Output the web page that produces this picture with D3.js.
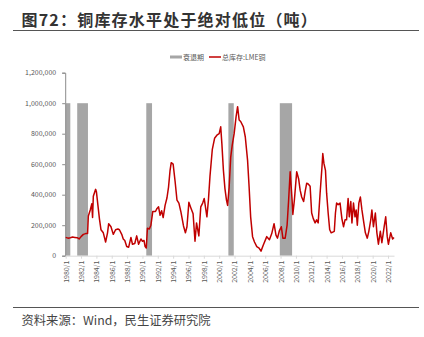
<!DOCTYPE html>
<html><head><meta charset="utf-8">
<script src="https://cdn.jsdelivr.net/npm/d3@7/dist/d3.min.js"></script>
<style>body{margin:0;background:#fff}svg{display:block}</style>
</head><body><svg id="c" width="424" height="337"></svg>
<script>
// decimal-year time stamps and LME copper total stocks (thousand tonnes)
const dates = [1980.0,1980.3,1980.6,1980.9,1981.2,1981.5,1981.75,1982.0,1982.3,1982.6,1982.85,1982.95,1983.2,1983.4,1983.5,1983.6,1983.9,1984.0,1984.2,1984.4,1984.6,1984.9,1985.2,1985.45,1985.6,1985.9,1986.2,1986.5,1986.8,1987.0,1987.3,1987.5,1987.7,1987.95,1988.2,1988.5,1988.7,1989.0,1989.25,1989.5,1989.8,1990.0,1990.2,1990.35,1990.5,1990.65,1990.9,1991.1,1991.35,1991.7,1991.9,1992.1,1992.3,1992.5,1992.7,1992.95,1993.2,1993.4,1993.6,1993.75,1994.0,1994.25,1994.5,1994.75,1995.0,1995.35,1995.6,1995.8,1996.05,1996.3,1996.6,1996.85,1997.05,1997.35,1997.6,1997.85,1998.05,1998.4,1998.6,1998.8,1999.1,1999.4,1999.7,2000.0,2000.2,2000.35,2000.55,2000.75,2000.95,2001.1,2001.3,2001.5,2001.7,2001.95,2002.2,2002.4,2002.6,2002.8,2003.15,2003.4,2003.7,2003.9,2004.1,2004.35,2004.6,2004.9,2005.2,2005.45,2005.75,2006.2,2006.55,2006.85,2007.15,2007.4,2007.6,2007.85,2008.1,2008.3,2008.6,2008.85,2009.05,2009.25,2009.5,2009.6,2009.8,2010.1,2010.35,2010.55,2010.75,2011.0,2011.2,2011.4,2011.6,2011.85,2012.05,2012.25,2012.5,2012.7,2012.9,2013.15,2013.4,2013.5,2013.65,2013.85,2014.0,2014.2,2014.4,2014.6,2015.0,2015.15,2015.3,2015.5,2015.75,2016.0,2016.2,2016.4,2016.6,2016.8,2016.95,2017.15,2017.3,2017.5,2017.7,2017.85,2018.0,2018.2,2018.4,2018.6,2018.85,2019.05,2019.3,2019.5,2019.75,2019.9,2020.1,2020.35,2020.55,2020.75,2021.0,2021.2,2021.5,2021.7,2021.9,2022.05,2022.35,2022.6,2022.78];
const stocks = [120,115,118,122,120,118,110,125,140,145,145,260,300,340,250,390,435,420,330,240,170,150,90,150,210,190,140,170,175,170,140,110,100,60,55,120,75,80,130,75,110,95,100,60,50,180,175,200,290,290,310,320,265,295,250,330,380,450,560,610,600,490,365,345,290,195,150,190,350,315,275,95,215,130,320,345,375,255,365,520,695,770,790,800,845,735,560,440,365,330,450,645,725,800,910,977,890,880,845,780,625,450,255,125,90,60,50,30,70,125,105,145,210,135,115,165,190,115,115,200,365,550,365,270,365,550,505,430,385,355,420,475,470,455,280,245,215,235,215,410,585,670,605,560,410,280,170,150,160,280,345,335,345,240,190,235,235,375,255,355,215,345,255,300,200,345,385,300,215,150,115,160,235,300,190,280,150,75,160,85,190,255,125,75,150,110,120];
// recession periods (decimal years)
const recStart = [1980.0,1981.5,1990.5,2001.2,2007.9];
const recEnd   = [1980.6,1982.9,1991.25,2001.9,2009.5];
const recHeight = 1000000;
const yTicks = [0,200000,400000,600000,800000,1000000,1200000];
const xTickYears = d3.range(1980, 2023, 2);
const title = "图72：铜库存水平处于绝对低位（吨）";
const legendLabels = ["衰退期","总库存:LME铜"];
const source = "资料来源：Wind，民生证券研究院";

const svg = d3.select("#c");
const font = "'Microsoft YaHei','Noto Sans CJK SC','Liberation Sans',sans-serif";
const x = d3.scaleLinear().domain([1980, 2022.78]).range([65.7, 394]);
const y = d3.scaleLinear().domain([0, 1200000]).range([255.7, 72.7]);

// title
svg.append("text").attr("x",21.5).attr("y",26).attr("font-family",font).attr("font-weight","bold")
  .attr("font-size",16).attr("letter-spacing",1.2).attr("fill","#333").text(title);
svg.append("line").attr("x1",13).attr("x2",419).attr("y1",30.5).attr("y2",30.5).attr("stroke","#555").attr("stroke-width",1.2);

// recession bars
svg.append("g").selectAll("rect").data(recStart).join("rect")
  .attr("x",(d)=>x(d)).attr("width",(d,i)=>x(recEnd[i])-x(d))
  .attr("y",y(recHeight)).attr("height",y(0)-y(recHeight)).attr("fill","#A6A6A6");

// axes
const ya = svg.append("g").attr("transform",`translate(${x(1980)-0.5},0)`)
  .call(d3.axisLeft(y).tickValues(yTicks).tickSize(3).tickFormat(d3.format(",")));
ya.select(".domain").attr("stroke","#8c8c8c");
ya.selectAll(".tick line").attr("stroke","#8c8c8c");
ya.selectAll("text").attr("font-family",font).attr("font-size",7).attr("fill","#595959").attr("x",-9);

const xa = svg.append("g").attr("transform",`translate(0,${y(0)})`)
  .call(d3.axisBottom(x).tickValues(xTickYears).tickSize(3).tickSizeOuter(0).tickFormat(d=>d+"/1"));
xa.select(".domain").attr("stroke","#d9d9d9");
xa.selectAll(".tick line").attr("stroke","#d9d9d9");
xa.selectAll("text").attr("font-family",font).attr("font-size",7).attr("fill","#595959")
  .attr("text-anchor","end").attr("transform","rotate(-90)").attr("x",-5).attr("y",0).attr("dy","0.35em");

// line
svg.append("path").datum(dates.map((d,i)=>[d,stocks[i]*1000]))
  .attr("fill","none").attr("stroke","#C00000").attr("stroke-width",1.5).attr("stroke-linejoin","round")
  .attr("d", d3.line().x(d=>x(d[0])).y(d=>y(d[1])));

// legend
const lg = svg.append("g").attr("font-family",font).attr("font-size",7).attr("fill","#595959");
lg.append("rect").attr("x",170).attr("y",55.5).attr("width",12).attr("height",3).attr("fill","#A6A6A6");
lg.append("text").attr("x",183).attr("y",59.5).text(legendLabels[0]);
lg.append("line").attr("x1",209).attr("x2",221).attr("y1",57).attr("y2",57).attr("stroke","#C00000").attr("stroke-width",1.5);
lg.append("text").attr("x",222).attr("y",59.5).text(legendLabels[1]);

// source
svg.append("line").attr("x1",13).attr("x2",419).attr("y1",307.5).attr("y2",307.5).attr("stroke","#555").attr("stroke-width",1.2);
svg.append("text").attr("x",21.5).attr("y",325).attr("font-family",font).attr("font-size",12.3).attr("fill","#444").text(source);
</script></body></html>
